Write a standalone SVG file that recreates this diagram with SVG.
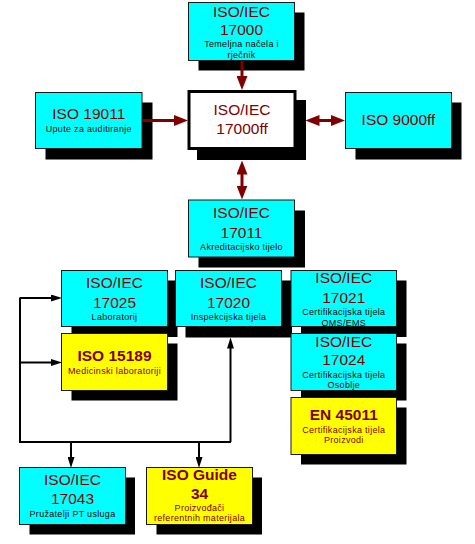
<svg xmlns="http://www.w3.org/2000/svg" width="475" height="544" viewBox="0 0 475 544">
<style>
.sh{fill:#000}
.cy{fill:#00FFFF;stroke:#1a1a1a;stroke-width:1}
.ye{fill:#FFFF00;stroke:#1a1a1a;stroke-width:1}
.mid{fill:#fff;stroke:#000;stroke-width:3}
text{font-family:"Liberation Sans",Arial,sans-serif;text-anchor:middle}
.t{font-size:15.5px;fill:#800000}
.tb{font-size:15.5px;fill:#800000;font-weight:bold}
.s{font-size:9px;fill:#2a0000;letter-spacing:0.3px}
.sy{font-size:9px;fill:#800000;letter-spacing:0.3px}
.ar{fill:none;stroke:#800000;stroke-width:3}
.bl{fill:none;stroke:#000;stroke-width:2}
</style>
<defs>
<marker id="mr" viewBox="0 0 14 11" refX="6" refY="5.5" markerWidth="14" markerHeight="11" markerUnits="userSpaceOnUse" orient="auto-start-reverse">
<path d="M0,0 L14,5.5 L0,11 Z" fill="#800000"/>
</marker>
<marker id="mb" viewBox="0 0 11 7" refX="5" refY="3.5" markerWidth="11" markerHeight="7" markerUnits="userSpaceOnUse" orient="auto">
<path d="M0,0 L11,3.5 L0,7 Z" fill="#000"/>
</marker>
</defs>

<g id="n17000">
<rect class="sh" x="198.5" y="12.5" width="106" height="58"/>
<rect class="cy" x="188.5" y="2.5" width="106" height="58"/>
<text class="t" x="241.5" y="17">ISO/IEC</text>
<text class="t" x="241.5" y="35">17000</text>
<text class="s" x="241.5" y="47">Temeljna načela i</text>
<text class="s" x="241.5" y="57.5">rječnik</text>
</g>

<g id="n17000ff">
<rect class="sh" x="197" y="100" width="109" height="60"/>
<rect class="mid" x="189" y="91.5" width="106" height="57"/>
<text class="t" x="242" y="115">ISO/IEC</text>
<text class="t" x="242" y="133.5">17000ff</text>
</g>

<g id="n19011">
<rect class="sh" x="45.5" y="102.5" width="107" height="57"/>
<rect class="cy" x="35.5" y="92.5" width="106.5" height="56"/>
<text class="t" x="88.8" y="119">ISO 19011</text>
<text class="s" x="88.8" y="131.5">Upute za auditiranje</text>
</g>

<g id="n9000ff">
<rect class="sh" x="355.5" y="102.5" width="106" height="57"/>
<rect class="cy" x="345.5" y="92.5" width="106" height="56"/>
<text class="t" x="398.5" y="124.5">ISO 9000ff</text>
</g>

<g id="n17011">
<rect class="sh" x="198.5" y="210.5" width="106.5" height="57"/>
<rect class="cy" x="188.5" y="200" width="106" height="57"/>
<text class="t" x="241.5" y="217.5">ISO/IEC</text>
<text class="t" x="241.5" y="237.5">17011</text>
<text class="s" x="241.5" y="249.5">Akreditacijsko tijelo</text>
</g>

<g id="n17025">
<rect class="sh" x="71.5" y="280.5" width="106" height="56.5"/>
<rect class="cy" x="61.5" y="270.5" width="106" height="56"/>
<text class="t" x="114.5" y="287.5">ISO/IEC</text>
<text class="t" x="114.5" y="307.5">17025</text>
<text class="s" x="114.5" y="320">Laboratorij</text>
</g>

<g id="n17020">
<rect class="sh" x="185.5" y="280.5" width="106.5" height="57"/>
<rect class="cy" x="175.5" y="270.5" width="106" height="56"/>
<text class="t" x="228.5" y="287.5">ISO/IEC</text>
<text class="t" x="228.5" y="307.5">17020</text>
<text class="s" x="228.5" y="320">Inspekcijska tijela</text>
</g>

<g id="n17021">
<rect class="sh" x="301" y="280.5" width="105.5" height="56.5"/>
<rect class="cy" x="291" y="270.5" width="105.5" height="56"/>
<text class="t" x="343.8" y="282.5">ISO/IEC</text>
<text class="t" x="343.8" y="302.5">17021</text>
<text class="s" x="343.8" y="314.5">Certifikacijska tijela</text>
<text class="s" x="343.8" y="325.5">QMS/EMS</text>
</g>

<g id="n15189">
<rect class="sh" x="71.5" y="343.5" width="106" height="57"/>
<rect class="ye" x="61.5" y="333.5" width="106" height="57"/>
<text class="tb" x="114.5" y="360.5">ISO 15189</text>
<text class="sy" x="114.5" y="374">Medicinski laboratoriji</text>
</g>

<g id="n17024">
<rect class="sh" x="301" y="343.5" width="105.5" height="57"/>
<rect class="cy" x="291" y="333.5" width="105.5" height="57"/>
<text class="t" x="343.8" y="346.5">ISO/IEC</text>
<text class="t" x="343.8" y="365">17024</text>
<text class="s" x="343.8" y="377.5">Certifikacijska tijela</text>
<text class="s" x="343.8" y="387.5">Osoblje</text>
</g>

<g id="n45011">
<rect class="sh" x="301" y="407.5" width="105.5" height="57"/>
<rect class="ye" x="291" y="397.5" width="105.5" height="57"/>
<text class="tb" x="343.8" y="419.5">EN 45011</text>
<text class="sy" x="343.8" y="432.5">Certifikacijska tijela</text>
<text class="sy" x="343.8" y="443">Proizvodi</text>
</g>

<g id="n17043">
<rect class="sh" x="29.5" y="477.5" width="105.5" height="57"/>
<rect class="cy" x="19.5" y="467.5" width="106" height="57"/>
<text class="t" x="72.5" y="485">ISO/IEC</text>
<text class="t" x="72.5" y="504">17043</text>
<text class="s" x="72.5" y="516.5">Pružatelji PT usluga</text>
</g>

<g id="nGuide34">
<rect class="sh" x="156.5" y="477.5" width="105.5" height="57"/>
<rect class="ye" x="146.5" y="467.5" width="106" height="57"/>
<text class="tb" x="199.5" y="479.5">ISO Guide</text>
<text class="tb" x="199.5" y="498.5">34</text>
<text class="sy" x="199.5" y="511">Proizvođači</text>
<text class="sy" x="199.5" y="520.5">referentnih materijala</text>
</g>

<g id="connectors">
<path class="ar" d="M242,60.5 V82" marker-end="url(#mr)"/>
<path class="ar" d="M142,120.5 H180" marker-end="url(#mr)"/>
<path class="ar" d="M313.5,120.5 H337" marker-start="url(#mr)" marker-end="url(#mr)"/>
<path class="ar" d="M242,168.5 V191.5" marker-start="url(#mr)" marker-end="url(#mr)"/>
<path class="bl" d="M20,297.5 V442 H231"/>
<path class="bl" d="M20,298 H56" marker-end="url(#mb)"/>
<path class="bl" d="M20,362.5 H56" marker-end="url(#mb)"/>
<path class="bl" d="M230.5,442 V343.5" marker-end="url(#mb)"/>
<path class="bl" d="M71,442 V462" marker-end="url(#mb)"/>
<path class="bl" d="M199,442 V462" marker-end="url(#mb)"/>
</g>
</svg>
